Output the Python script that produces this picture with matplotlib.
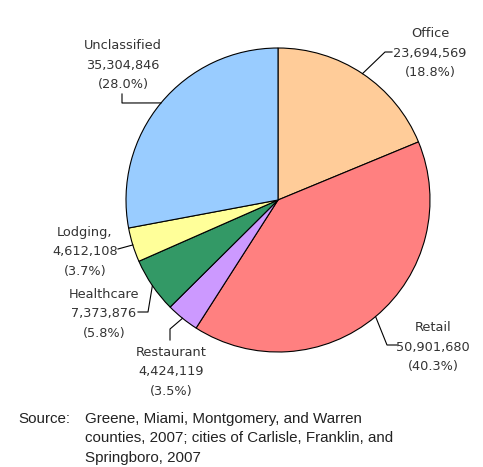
import matplotlib.pyplot as plt
import numpy as np

# data
categories = ["Office", "Retail", "Restaurant", "Healthcare", "Lodging,", "Unclassified"]
values = [23694569, 50901680, 4424119, 7373876, 4612108, 35304846]
colors = ["#FFCC99", "#FF8080", "#CC99FF", "#339966", "#FFFF99", "#99CCFF"]

source_lines = ["Greene, Miami, Montgomery, and Warren",
                "counties, 2007; cities of Carlisle, Franklin, and",
                "Springboro, 2007"]

W, H = 483, 467
fig = plt.figure(figsize=(W / 100, H / 100), dpi=100)
ax = fig.add_axes([0, 0, 1, 1])

cx, cy, r = 278, H - 200, 152
wedges, _ = ax.pie(values, colors=colors, startangle=90, counterclock=False,
                   center=(cx, cy), radius=r,
                   wedgeprops=dict(edgecolor="black", linewidth=0.8))
ax.set_xlim(0, W)
ax.set_ylim(0, H)
ax.set_aspect("equal")
ax.axis("off")

# label text centre (middle line) and leader elbow points, in pixels from top-left
layout = {
    "Office": ((430, 53), [(385, 52), (392, 52)]),
    "Retail": ((433, 347), [(387, 345), (397, 345)]),
    "Restaurant": ((171, 372), [(170, 329), (170, 340)]),
    "Healthcare": ((104, 314), [(148, 312), (138, 312)]),
    "Lodging,": ((85, 252), [(118, 249)]),
    "Unclassified": ((123, 65), [(122, 103), (122, 94)]),
}

total = sum(values)
for w, cat, val in zip(wedges, categories, values):
    mid = np.deg2rad((w.theta1 + w.theta2) / 2)
    ex, ey = cx + r * np.cos(mid), cy + r * np.sin(mid)
    (tx, ty), pts = layout[cat]
    xs = [ex] + [p[0] for p in pts]
    ys = [ey] + [H - p[1] for p in pts]
    ax.plot(xs, ys, color="black", lw=0.8)
    pct = 100 * val / total
    ax.text(tx, H - ty, f"{cat}\n{val:,}\n({pct:.1f}%)", ha="center", va="center",
            fontsize=9.3, color="#333333", linespacing=1.62, family="DejaVu Sans")

ax.text(18, H - 419, "Source:", ha="left", va="center", fontsize=10.9,
        family="Liberation Sans", color="#222222")
for i, line in enumerate(source_lines):
    ax.text(85, H - (419 + 19.5 * i), line, ha="left", va="center", fontsize=10.9,
            family="Liberation Sans", color="#222222")

fig.savefig("out.png", dpi=100)
